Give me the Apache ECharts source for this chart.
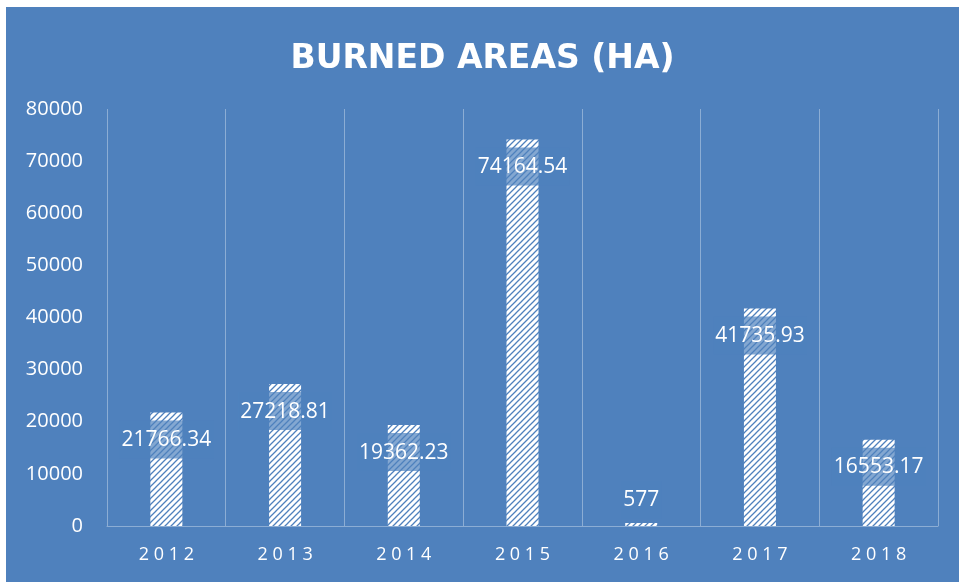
<!DOCTYPE html>
<html>
<head>
<meta charset="utf-8">
<script src="https://cdn.jsdelivr.net/npm/echarts@6/dist/echarts.min.js"></script>
<style>
  html, body { margin: 0; padding: 0; background: #ffffff; }
  #chart { position: absolute; left: 6px; top: 7px; width: 953px; height: 575px; }
</style>
</head>
<body>
<div id="chart"></div>
<script>
  // data
  var years = ['2012', '2013', '2014', '2015', '2016', '2017', '2018']
  var burned = [21766.34, 27218.81, 19362.23, 74164.54, 577, 41735.93, 16553.17]
  var yTicks = [0, 10000, 20000, 30000, 40000, 50000, 60000, 70000, 80000]

  var blue = '#4f81bd'

  // hatch pattern for the bars: white with thin blue "/" stripes
  function makeHatch() {
    var c = document.createElement('canvas')
    c.width = 6
    c.height = 6
    var ctx = c.getContext('2d')
    ctx.fillStyle = '#ffffff'
    ctx.fillRect(0, 0, 6, 6)
    ctx.strokeStyle = blue
    ctx.lineWidth = 1.3
    ctx.beginPath()
    ctx.moveTo(-1, 7); ctx.lineTo(7, -1)
    ctx.moveTo(-4, 4); ctx.lineTo(4, -4)
    ctx.moveTo(2, 10); ctx.lineTo(10, 2)
    ctx.stroke()
    return c
  }

  var chart = echarts.init(document.getElementById('chart'))

  var barData = burned.map(function (v) {
    var item = { value: v }
    // tiny bar: label does not fit inside, put it above
    if (v < 5000) {
      item.label = { position: 'top', distance: 4 }
    }
    return item
  })

  var option = {
    backgroundColor: blue,
    animation: false,
    title: {
      text: 'BURNED AREAS (HA)',
      left: 'center',
      top: 31,
      textStyle: {
        color: '#ffffff',
        fontFamily: 'DejaVu Sans',
        fontWeight: 'bold',
        fontSize: 33
      }
    },
    grid: {
      left: 101,
      right: 21,
      top: 102,
      bottom: 56,
      containLabel: false
    },
    xAxis: {
      type: 'category',
      data: years,
      boundaryGap: true,
      axisLine: { show: true, lineStyle: { color: 'rgba(255,255,255,0.35)', width: 1 } },
      axisTick: { show: false },
      splitLine: { show: true, lineStyle: { color: 'rgba(255,255,255,0.35)', width: 1 } },
      axisLabel: {
        color: '#ffffff',
        fontFamily: 'Open Sans',
        fontSize: 18,
        margin: 20,
        formatter: function (v) { return v.split('').join(' ') }
      }
    },
    yAxis: {
      type: 'value',
      min: yTicks[0],
      max: yTicks[yTicks.length - 1],
      interval: yTicks[1] - yTicks[0],
      axisLine: { show: false },
      axisTick: { show: false },
      splitLine: { show: false },
      axisLabel: {
        color: '#ffffff',
        fontFamily: 'Open Sans',
        fontSize: 20,
        margin: 24,
        formatter: function (v) { return String(v) }
      }
    },
    series: [{
      type: 'bar',
      data: barData,
      barWidth: 32,
      itemStyle: {
        color: { image: makeHatch(), repeat: 'repeat' }
      },
      label: {
        show: true,
        position: 'insideTop',
        distance: 8,
        color: '#ffffff',
        fontFamily: 'Open Sans',
        fontSize: 21,
        padding: [9, 2, 8, 2],
        backgroundColor: 'rgba(79,129,189,0.7)'
      }
    }]
  }

  chart.setOption(option)
</script>
</body>
</html>
